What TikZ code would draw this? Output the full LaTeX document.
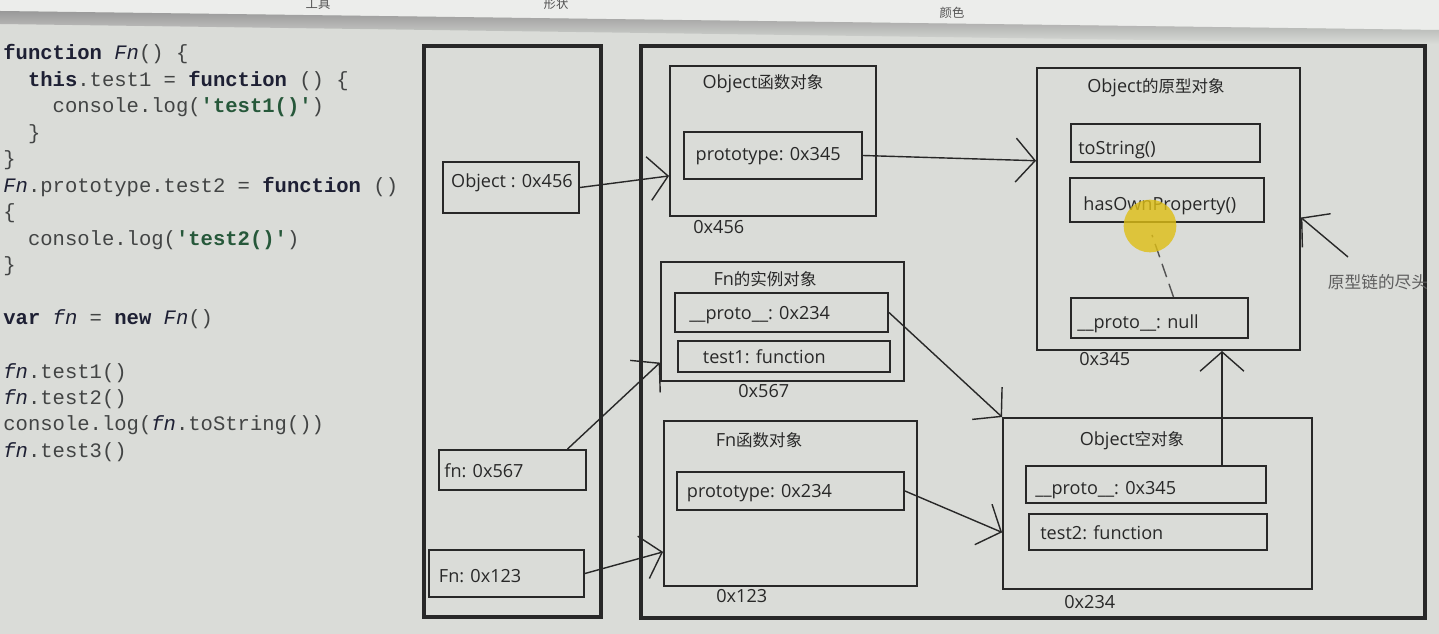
\documentclass[tikz,border=0pt]{standalone}
\usepackage{fontspec}
\usetikzlibrary{positioning, calc, fit, arrows.meta}
\newfontfamily\latinfont{Open Sans}
\newfontfamily\cjkfont{Noto Sans CJK SC}
\newfontfamily\codefont{Liberation Mono}
\definecolor{screen}{RGB}{218,220,216}
\definecolor{glare}{RGB}{236,237,235}
\definecolor{ink}{RGB}{40,40,40}
\definecolor{kwcol}{RGB}{30,32,52}
\definecolor{plaincol}{RGB}{66,68,68}
\definecolor{strcol}{RGB}{38,88,58}
\definecolor{marker}{RGB}{222,190,20}
\newcommand\jskw[1]{{\bfseries\color{kwcol}#1}}
\newcommand\jsstr[1]{{\bfseries\color{strcol}#1}}
\newcommand\jsfn[1]{{\itshape\color{kwcol}#1}}
\newcommand\zh[1]{{\cjkfont\fontsize{9.4}{11}\selectfont #1}}
\tikzset{
  every node/.style={font=\latinfont\fontsize{10.3}{12}\selectfont, text=ink},
  frame/.style={draw=ink, line width=2pt, inner sep=0pt},
  objbox/.style={draw=ink, line width=1.1pt, inner sep=0pt},
  slot/.style={draw=ink, line width=1.1pt, inner sep=0pt},
  slotlab/.style 2 args={anchor=west, inner sep=0pt, xshift=#1, yshift=#2},
  title/.style={inner sep=0pt},
  addr/.style={inner sep=0pt, anchor=west},
  codeline/.style={anchor=base west, inner sep=0pt, font=\codefont\fontsize{11.7}{15}\selectfont, text=plaincol},
  edge/.style={draw=ink, line width=0.8pt, -{Straight Barb[length=11pt, width=25pt]}},
  menu/.style={inner sep=0pt, font=\cjkfont\fontsize{7}{8}\selectfont, text=ink!80},
  note/.style={inner sep=0pt, font=\cjkfont\fontsize{9.5}{11}\selectfont, text=ink!75},
}

\begin{document}
\begin{tikzpicture}[x=0.02cm, y=-0.02cm]
  \useasboundingbox (0,0) rectangle (1439,634);
  % ---- screen and menu strip ----------------------------------------------
  \fill[screen] (0,0) rectangle (1439,634);
  \fill[glare] (0,0) -- (1439,0) -- (1439,30) -- (0,11) -- cycle;
  \shade[top color=black!40, bottom color=screen] (0,11) -- (1439,30) -- (1439,44) -- (0,24) -- cycle;
  \node[menu] (mtool)  at (318,4)  {工具};
  \node[menu] (mshape) at (556,4)  {形状};
  \node[menu] (mcolor) at (952,13) {颜色};

  % ---- source code ---------------------------------------------------------
  \foreach \row/\src in {
      1/{\jskw{function} \jsfn{Fn}() \{},
      2/{\phantom{xx}\jskw{this}.test1 = \jskw{function} () \{},
      3/{\phantom{xxxx}console.log(\jsstr{'test1()'})},
      4/{\phantom{xx}\}},
      5/{\}},
      6/{\jsfn{Fn}.prototype.test2 = \jskw{function} ()},
      7/{\{},
      8/{\phantom{xx}console.log(\jsstr{'test2()'})},
      9/{\}},
      11/{\jskw{var} \jsfn{fn} = \jskw{new} \jsfn{Fn}()},
      13/{\jsfn{fn}.test1()},
      14/{\jsfn{fn}.test2()},
      15/{console.log(\jsfn{fn}.toString())},
      16/{\jsfn{fn}.test3()}}
    \node[codeline] (code\row) at (3,{60+26.5*(\row-1)}) {\src};

  % ---- stack ---------------------------------------------------------------
  \node[frame, fit={(424,46) (601,617)}] (stack) {};
  \node[slot, fit={(443,162) (579,213)}, label={[slotlab={5pt}{2.5pt}]west:{Object : 0x456}}] (objvar) {};
  \node[slot, fit={(439,450) (586,490)}, label={[slotlab={3.4pt}{-0.6pt}]west:{fn: 0x567}}] (instvar) {};
  \node[slot, fit={(429,550) (584,597)}, label={[slotlab={6pt}{-1.6pt}]west:{Fn: 0x123}}] (ctorvar) {};

  % ---- heap ----------------------------------------------------------------
  \node[frame, fit={(641,46) (1425,618)}] (heap) {};

  \node[objbox, fit={(670,66) (876,216)}] (objfn) {};
  \node[title] (objfnt) at (763,84) {Object\zh{函数对象}};
  \node[slot, fit={(684,132) (862,179)}, label={[slotlab={7pt}{-0.6pt}]west:{prototype: 0x345}}] (objproto) {};
  \node[addr] (objfna) at (693,227) {0x456};

  \node[objbox, fit={(661,262) (904,381)}] (fninst) {};
  \node[title] (fninstt) at (765,279) {Fn\zh{的实例对象}};
  \node[slot, fit={(675,293) (888,332)}, label={[slotlab={8.5pt}{-1.6pt}]west:{\_\_proto\_\_: 0x234}}] (instproto) {};
  \node[slot, fit={(678,341) (890,372)}, label={[slotlab={14.5pt}{0pt}]west:{test1: function}}] (insttest) {};
  \node[addr] (fninsta) at (738,391) {0x567};

  \node[objbox, fit={(664,421) (917,586)}] (fnfn) {};
  \node[title] (fnfnt) at (759,440) {Fn\zh{函数对象}};
  \node[slot, fit={(677,472) (904,510)}, label={[slotlab={6pt}{-1pt}]west:{prototype: 0x234}}] (fnproto) {};
  \node[addr] (fnfna) at (716,596) {0x123};

  \node[objbox, fit={(1037,68) (1300,350)}] (protobox) {};
  \node[title] (protoboxt) at (1156,88) {Object\zh{的原型对象}};
  \node[slot, fit={(1071,124) (1260,162)}, label={[slotlab={4.5pt}{-4pt}]west:{toString()}}] (tostr) {};
  \node[slot, fit={(1070,178) (1264,222)}, label={[slotlab={8pt}{-3.4pt}]west:{hasOwnProperty()}}] (hasown) {};
  \node[slot, fit={(1071,298) (1248,338)}, label={[slotlab={4pt}{-3.4pt}]west:{\_\_proto\_\_: null}}] (nullproto) {};
  \node[addr] (protoboxa) at (1079,359) {0x345};

  \node[objbox, fit={(1003,418) (1312,589)}] (emptyobj) {};
  \node[title] (emptyobjt) at (1132,441) {Object\zh{空对象}};
  \node[slot, fit={(1026,466) (1266,503)}, label={[slotlab={5.7pt}{-3.4pt}]west:{\_\_proto\_\_: 0x345}}] (emptyproto) {};
  \node[slot, fit={(1029,514) (1267,550)}, label={[slotlab={6.8pt}{-0.6pt}]west:{test2: function}}] (emptytest) {};
  \node[addr] (emptyobja) at (1064,602) {0x234};

  \node[note] (endlab) at (1378,282) {原型链的尽头};

  % ---- references ----------------------------------------------------------
  \draw[edge] (objvar.east) -- ($(objfn.north west)!0.73!(objfn.south west)$);
  \draw[edge] (objproto.east) -- ($(protobox.north west)!0.33!(protobox.south west)$);
  \draw[edge] ($(instvar.north)+(55,0)$) -- ($(fninst.north west)!0.84!(fninst.south west)$);
  \draw[edge] (ctorvar.east) -- ($(fnfn.north west)!0.79!(fnfn.south west)$);
  \draw[edge] (instproto.east) -- (emptyobj.north west);
  \draw[edge] (fnproto.east) -- ($(emptyobj.north west)!0.667!(emptyobj.south west)$);
  \coordinate (uptail) at ($(emptyproto.north)+(76,0)$);
  \draw[edge] (uptail) -- (uptail |- protobox.south);
  \coordinate (endtail) at (1348,257);
  \draw[edge] (endtail) -- ($(protobox.north east)!0.53!(protobox.south east)$);

  % ---- half drawn stroke and pointer highlight ------------------------------
  \draw[ink!80, line width=0.8pt, dash pattern=on 8pt off 4pt] ($(nullproto.north)+(14,0)$) -- ($(hasown.south)+(-15,12)$);
  \fill[marker, opacity=0.8] (1150,226) circle[radius=15pt];
\end{tikzpicture}
\end{document}
